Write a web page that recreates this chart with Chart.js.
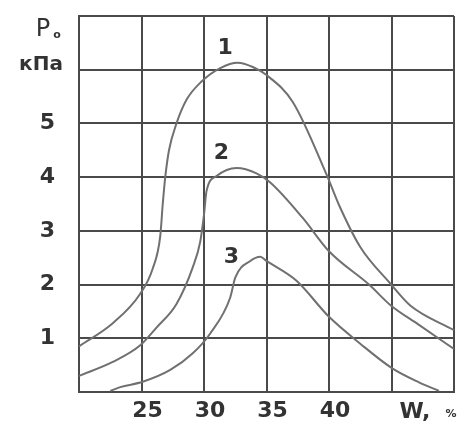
<!DOCTYPE html>
<html>
<head>
<meta charset="utf-8">
<script src="https://cdn.jsdelivr.net/npm/chart.js@4.4.1/dist/chart.umd.min.js"></script>
<style>
  body { margin: 0; background: #fff; }
  #chart { display: block; }
</style>
</head>
<body>
<canvas id="chart" width="464" height="425"></canvas>
<script>
// Moisture W, % and pressure P0, kPa
let w1 = [20, 22.7, 24.9, 25.9, 26.5, 26.7, 26.9, 27.2, 27.8, 28.6, 29.8, 31.3, 32.7, 33.9, 35.0, 37.1, 39.8, 40.9, 42.5, 44.9, 46.5, 50];
let p1 = [0.85, 1.28, 1.83, 2.3, 2.9, 3.5, 4.0, 4.5, 5.0, 5.44, 5.78, 6.03, 6.13, 6.05, 5.9, 5.4, 4.05, 3.43, 2.7, 2.02, 1.61, 1.15];

let w2 = [20, 22.7, 24.9, 26.2, 27.8, 29.1, 29.7, 30.0, 30.2, 31.0, 32.6, 34.2, 35.3, 37.9, 40.0, 43.2, 45.0, 47.2, 50];
let p2 = [0.3, 0.56, 0.87, 1.2, 1.64, 2.32, 2.8, 3.3, 3.74, 4.02, 4.17, 4.07, 3.9, 3.24, 2.62, 2.0, 1.6, 1.25, 0.8];

let w3 = [22.5, 23.3, 25.1, 27.3, 29.1, 30.5, 32.1, 32.5, 33.7, 34.5, 35.0, 37.4, 40.0, 42.5, 45.0, 47.2, 48.8];
let p3 = [0.02, 0.09, 0.19, 0.41, 0.72, 1.09, 1.76, 2.13, 2.44, 2.52, 2.44, 2.07, 1.4, 0.9, 0.45, 0.18, 0.02];

let xTicks = [25, 30, 35, 40]; // labelled W ticks
let yTicks = [1, 2, 3, 4, 5];  // labelled P ticks
let curveNames = ["1", "2", "3"];

let gridColor = "#4a4a4a";
let curveColor = "#707070";
let textColor = "#333";
let fontFamily = "'DejaVu Sans', sans-serif";

function toPoints(ws, ps) {
    return ws.map((w, i) => ({ x: w, y: ps[i] }));
}

function curve(ws, ps) {
    return {
        data: toPoints(ws, ps),
        borderColor: curveColor,
        borderWidth: 2,
        pointRadius: 0,
        tension: 0.4,
        cubicInterpolationMode: "monotone",
        fill: false
    };
}

// where the curve numbers sit, in data units
let namePos = [{ x: 31.7, y: 6.4 }, { x: 31.4, y: 4.45 }, { x: 32.2, y: 2.5 }];

// axis titles and curve numbers
const textPlugin = {
    id: "texts",
    afterDraw(chart) {
        let ctx = chart.ctx;
        let xs = chart.scales.x;
        let ys = chart.scales.y;
        ctx.save();
        ctx.fillStyle = textColor;
        ctx.textBaseline = "middle";

        ctx.font = "bold 22px " + fontFamily;
        ctx.textAlign = "center";
        curveNames.forEach((n, i) => {
            ctx.fillText(n, xs.getPixelForValue(namePos[i].x), ys.getPixelForValue(namePos[i].y));
        });

        // y axis title
        ctx.font = "24px " + fontFamily;
        ctx.fillText("P", 43, 30);
        ctx.font = "bold 11px " + fontFamily;
        ctx.fillText("o", 57, 35);
        ctx.font = "bold 20px " + fontFamily;
        ctx.fillText("кПа", 41, 65);

        // x axis title at the 45 position
        ctx.textAlign = "left";
        ctx.font = "bold 22px " + fontFamily;
        let xw = xs.getPixelForValue(45) + 8;
        ctx.fillText("W,", xw, ys.bottom + 20);
        ctx.font = "bold 11px " + fontFamily;
        ctx.fillText("%", xw + 46, ys.bottom + 22);
        ctx.restore();
    }
};

let chart = new Chart(document.getElementById("chart").getContext("2d"), {
    type: "line",
    data: {
        datasets: [curve(w1, p1), curve(w2, p2), curve(w3, p3)]
    },
    options: {
        responsive: false,
        animation: false,
        layout: { padding: { top: 16, right: 10, left: 0, bottom: 0 } },
        plugins: {
            legend: { display: false },
            tooltip: { enabled: false }
        },
        scales: {
            x: {
                type: "linear",
                min: 20,
                max: 50,
                afterFit: (s) => { s.height = 33; s.paddingLeft = 0; s.paddingRight = 0; },
                grid: { color: gridColor, lineWidth: 2, drawTicks: false },
                border: { display: true, color: gridColor, width: 2 },
                ticks: {
                    stepSize: 5,
                    padding: 6,
                    labelOffset: 6,
                    color: textColor,
                    font: { family: fontFamily, size: 22, weight: "bold" },
                    callback: (v) => xTicks.includes(v) ? String(v) : ""
                }
            },
            y: {
                min: 0,
                max: 7,
                afterFit: (s) => { s.width = 79; s.paddingTop = 0; s.paddingBottom = 0; },
                grid: { color: gridColor, lineWidth: 2, drawTicks: false },
                border: { display: true, color: gridColor, width: 2 },
                ticks: {
                    stepSize: 1,
                    padding: 24,
                    color: textColor,
                    font: { family: fontFamily, size: 22, weight: "bold" },
                    callback: (v) => yTicks.includes(v) ? String(v) : ""
                }
            }
        }
    },
    plugins: [textPlugin]
});
</script>
</body>
</html>
